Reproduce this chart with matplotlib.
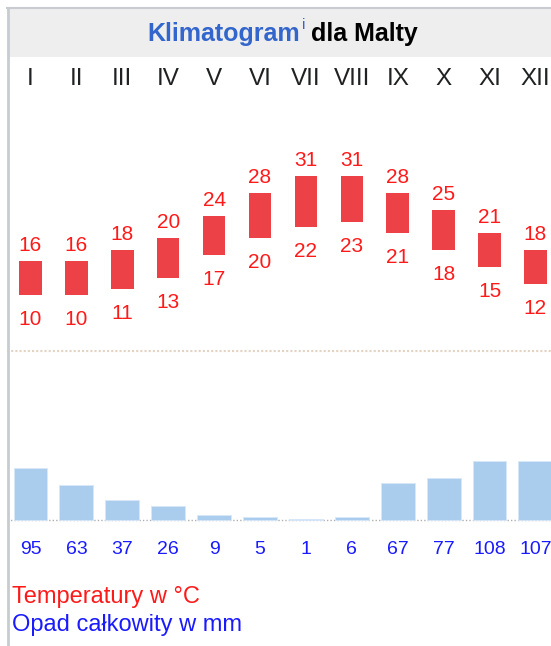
import numpy as np
import matplotlib
matplotlib.use('Agg')
import matplotlib.pyplot as plt
from matplotlib.patches import Rectangle

plt.rcParams['font.family'] = ['Liberation Sans', 'DejaVu Sans']

# data
months = ['I', 'II', 'III', 'IV', 'V', 'VI', 'VII', 'VIII', 'IX', 'X', 'XI', 'XII']
t_high = [16, 16, 18, 20, 24, 28, 31, 31, 28, 25, 21, 18]
t_low = [10, 10, 11, 13, 17, 20, 22, 23, 21, 18, 15, 12]
precip = [95, 63, 37, 26, 9, 5, 1, 6, 67, 77, 108, 107]

W, H = 551, 646
fig = plt.figure(figsize=(W / 100, H / 100), dpi=100)
fig.patch.set_facecolor('white')

# pixel helpers for the frame / layout
def fx(px):
    return px / W

def fy(py):
    return 1 - py / H

x = np.arange(len(months))
x0, dx = 30.5, 45.9
xlim = (-x0 / dx, (W - x0) / dx)

# temperature axes (whole figure, only the scale matters)
t0, tscale = 351.5, 5.65
ax_t = fig.add_axes([0, 0, 1, 1])
ax_t.set_xlim(*xlim)
ax_t.set_ylim((t0 - H) / tscale, t0 / tscale)
ax_t.axis('off')

# precipitation axes
p0, pscale = 520, 0.55
ax_p = fig.add_axes([0, 0, 1, 1])
ax_p.set_xlim(*xlim)
ax_p.set_ylim((p0 - H) / pscale, p0 / pscale)
ax_p.axis('off')

# title bar and frame
fig.patches.append(Rectangle((fx(7), fy(57)), 1, fy(8) - fy(57), transform=fig.transFigure,
                             facecolor='#eeeeee', edgecolor='none', zorder=0))
fig.add_artist(plt.Line2D([fx(7), 1], [fy(8), fy(8)], color='#c8ccd1', lw=1.5))
fig.add_artist(plt.Line2D([fx(7.5), fx(7.5)], [0, fy(8)], color='#c8ccd1', lw=2))

# title pieces
fig.canvas.draw()
r = fig.canvas.get_renderer()
t1 = fig.text(fx(147), fy(41), 'Klimatogram', color='#3366cc', fontsize=18,
              fontweight='bold', va='baseline')
bb = t1.get_window_extent(r)
t2 = fig.text(bb.x1 / W + fx(2), fy(29), 'i', color='#3366cc', fontsize=11,
              va='baseline')
bb2 = t2.get_window_extent(r)
fig.text(bb2.x1 / W + fx(6), fy(41), 'dla Malty', color='black', fontsize=18,
         fontweight='bold', va='baseline')

# month labels
for i, m in enumerate(months):
    fig.text((x0 + dx * i) / W, fy(85), m, ha='center', va='baseline', fontsize=17.5,
             color='#202122')

# zero temperature line
ax_t.plot([xlim[0] + 7.5 / dx, xlim[1]], [0, 0], color='#e3d3c3', lw=1.5,
          linestyle=(0, (1, 1)), zorder=1)

# temperature bars and labels
ax_t.bar(x, np.array(t_high) - np.array(t_low), bottom=t_low, width=0.49,
         color='#ec4146', zorder=2)
for i in range(len(months)):
    ax_t.annotate(str(t_high[i]), (i, t_high[i]), xytext=(0, 7.2), textcoords='offset points',
                  ha='center', va='baseline', fontsize=15, color='#ff1a1a')
    ax_t.annotate(str(t_low[i]), (i, t_low[i]), xytext=(0, -21.6), textcoords='offset points',
                  ha='center', va='baseline', fontsize=15, color='#ff1a1a')

# precipitation baseline, bars and labels
ax_p.plot([xlim[0] + 7.5 / dx, xlim[1]], [0, 0], color='#b0b0b0', lw=1,
          linestyle=(0, (1, 1.5)), zorder=1)
ax_p.bar(x, precip, width=0.74, color='#aacdee', edgecolor='#d8e8f8', lw=0.6, zorder=2)
for i in range(len(months)):
    ax_p.annotate(str(precip[i]), (i, 0), xytext=(0, -24.5), textcoords='offset points',
                  ha='center', va='baseline', fontsize=14, color='#1a1aff')

# legend text
fig.text(fx(12), fy(603), 'Temperatury w °C', color='#ff1a1a', fontsize=17, va='baseline')
fig.text(fx(12), fy(630.5), 'Opad całkowity w mm', color='#1a1aff', fontsize=17, va='baseline')

fig.savefig('out.png', dpi=100, facecolor='white')
